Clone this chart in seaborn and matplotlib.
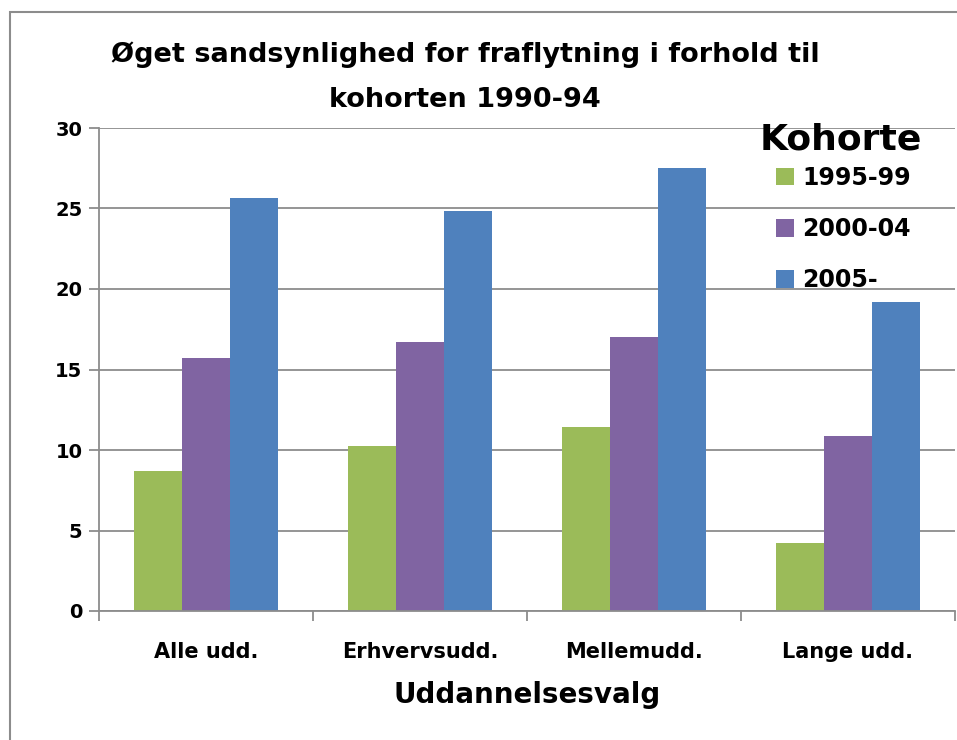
import pandas as pd
import seaborn as sns
import matplotlib.pyplot as plt
from matplotlib.patches import Rectangle

categories = ['Alle udd.', 'Erhvervsudd.', 'Mellemudd.', 'Lange udd.']
cohorts = ['1995-99', '2000-04', '2005-']
v_1995 = [8.7, 10.25, 11.4, 4.2]
v_2000 = [15.7, 16.7, 17.0, 10.9]
v_2005 = [25.65, 24.85, 27.5, 19.2]
colors = ['#9BBB59', '#8064A2', '#4F81BD']

df = pd.DataFrame({
    'Uddannelse': categories * 3,
    'Kohorte': [c for c in cohorts for _ in categories],
    'Værdi': v_1995 + v_2000 + v_2005,
})

sns.set_style('white')
plt.rcParams['font.family'] = ['DejaVu Sans']
plt.rcParams['font.weight'] = 'bold'
plt.rcParams['text.color'] = 'black'
plt.rcParams['xtick.color'] = 'black'
plt.rcParams['ytick.color'] = 'black'
plt.rcParams['axes.labelcolor'] = 'black'

fig = plt.figure(figsize=(9.57, 7.4), dpi=100)
ax = fig.add_axes([99 / 957, 1 - 611 / 740, (955 - 99) / 957, (611 - 128) / 740])

sns.barplot(data=df, x='Uddannelse', y='Værdi', hue='Kohorte', palette=colors,
            width=0.67, saturation=1, linewidth=0, ax=ax)

ax.set_ylim(0, 30)
ax.set_yticks(range(0, 31, 5))
ax.set_xlim(-0.5, 3.5)
ax.grid(axis='y', color='#8c8c8c', linewidth=1.3)
ax.set_axisbelow(True)
for s in ['top', 'right']:
    ax.spines[s].set_visible(False)
for s in ['left', 'bottom']:
    ax.spines[s].set_color('#8c8c8c')
    ax.spines[s].set_linewidth(1.3)

ax.set_xticks([-0.5, 0.5, 1.5, 2.5, 3.5], minor=True)
ax.tick_params(axis='x', which='major', length=0, pad=22, labelsize=15)
ax.tick_params(axis='x', which='minor', length=7, width=1.3, color='#8c8c8c', direction='out', bottom=True)
ax.tick_params(axis='y', length=7, width=1.3, color='#8c8c8c', labelcolor='black',
               direction='out', left=True, pad=5, labelsize=14)
for lbl in ax.get_xticklabels() + ax.get_yticklabels():
    lbl.set_fontweight('bold')

ax.set_xlabel('Uddannelsesvalg', fontsize=20, fontweight='bold', labelpad=14)
ax.set_ylabel('')

fig.text(465 / 957, 1 - 55 / 740, 'Øget sandsynlighed for fraflytning i forhold til',
         ha='center', va='center', fontsize=19.5, fontweight='bold')
fig.text(465 / 957, 1 - 100 / 740, 'kohorten 1990-94',
         ha='center', va='center', fontsize=19.5, fontweight='bold')

# legend title drawn separately so the entries sit indented below it
fig.text(760 / 957, 1 - 140 / 740, 'Kohorte', ha='left', va='center', fontsize=26, fontweight='bold')
leg = ax.legend(loc='upper left', bbox_to_anchor=(776 / 957, 1 - 166 / 740),
                bbox_transform=fig.transFigure, frameon=False, fontsize=17,
                handlelength=0.75, handleheight=0.75,
                handletextpad=0.35, labelspacing=1.15,
                borderpad=0, borderaxespad=0)
for t in leg.get_texts():
    t.set_fontweight('bold')

fig.patches.append(Rectangle((10 / 957, -0.1), 1.2, 1.1 - 12 / 740, transform=fig.transFigure,
                             fill=False, edgecolor='#8c8c8c', linewidth=1.5))

fig.savefig('out.png', dpi=100)
